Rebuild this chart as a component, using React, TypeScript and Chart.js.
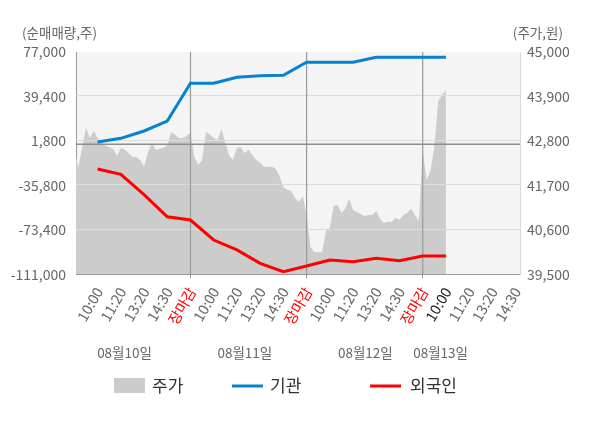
import React, { useEffect, useRef } from "react";
import { Chart, registerables } from "chart.js";

Chart.register(...registerables);

// x axis: one unit per label slot; day separators (장마감) at 5, 10, 15
const TICK_LABELS = [
  "10:00", "11:20", "13:20", "14:30", "장마감",
  "10:00", "11:20", "13:20", "14:30", "장마감",
  "10:00", "11:20", "13:20", "14:30", "장마감",
  "10:00", "11:20", "13:20", "14:30",
];
const DAY_LABELS = ["08월10일", "08월11일", "08월12일", "08월13일"];
const DAY_LABEL_POS = [2.16, 7.34, 12.53, 15.77];
const SEPARATORS = [5, 10, 15];
const CURRENT_TICK = 16;
const SERIES_NAMES = ["주가", "기관", "외국인"];

// 순매매량 (주), one value per slot from 10:00 of 08/10 to 10:00 of 08/13
const INST = [900, 4000, 10200, 18600, 50500, 50600, 55600, 57000, 57300, 68300, 68300, 68300, 72500, 72500, 72500, 72500];
const FOREIGN = [-22000, -26400, -43700, -62300, -65100, -82000, -90400, -101700, -108800, -104000, -98900, -100300, -97500, -99500, -95500, -95500];

// 주가 (원), 6 samples per slot
const SAMPLES_PER_SLOT = 6;
const PRICE_D1 = [42630, 42130, 42630, 43120, 42870, 43050, 42870, 42750, 42680, 42650, 42600, 42430, 42630, 42580, 42500, 42400, 42400, 42330, 42160, 42500, 42770, 42580, 42600, 42630, 42700, 43020, 42950, 42870, 42870, 42920];
const PRICE_D2 = [43000, 42400, 42210, 42330, 43020, 42950, 42870, 42820, 43100, 42750, 42430, 42330, 42630, 42650, 42500, 42580, 42450, 42330, 42260, 42160, 42160, 42160, 42110, 41930, 41660, 41590, 41560, 41390, 41290, 41440];
const PRICE_D3 = [40970, 40180, 40050, 40050, 40050, 40570, 40650, 41190, 41220, 41020, 41120, 41370, 41090, 41040, 40990, 40940, 40970, 40970, 41070, 40870, 40770, 40800, 40800, 40900, 40850, 40970, 41020, 41120, 40970, 40820];
const PRICE_D4 = [42580, 41830, 42060, 42630, 43790, 43940, 44060];
const PREV_CLOSE = 42720;

const QTY_MIN = -111000;
const QTY_MAX = 77000;
const QTY_STEP = 37600;
const PRICE_MIN = 39500;
const PRICE_MAX = 45000;
const PRICE_STEP = 1100;

const FONT = "'Noto Sans CJK KR', 'Noto Sans', sans-serif";

const decorPlugin = {
  id: "decor",
  beforeDraw(chart: any) {
    const { ctx, chartArea: a } = chart;
    ctx.save();
    ctx.fillStyle = "#f4f4f4";
    ctx.fillRect(a.left, a.top, a.right - a.left, a.bottom - a.top);
    ctx.restore();
  },
  afterDatasetDraw(chart: any, args: any) {
    if (args.index !== 0) return;
    const { ctx, chartArea: a, scales } = chart;
    ctx.save();
    ctx.lineWidth = 1;
    ctx.strokeStyle = "#dcdcdc";
    scales.yQty.ticks.forEach((t: any) => {
      if (t.value <= QTY_MIN || t.value >= QTY_MAX) return;
      const py = Math.round(scales.yQty.getPixelForValue(t.value)) - 0.5;
      ctx.beginPath();
      ctx.moveTo(a.left, py);
      ctx.lineTo(a.right, py);
      ctx.stroke();
    });
    const pc = scales.yPrice.getPixelForValue(PREV_CLOSE);
    ctx.strokeStyle = "#8c8c8c";
    ctx.lineWidth = 1.5;
    ctx.beginPath();
    ctx.moveTo(a.left, pc);
    ctx.lineTo(a.right, pc);
    ctx.stroke();
    ctx.strokeStyle = "#999999";
    ctx.lineWidth = 1.2;
    SEPARATORS.forEach((v) => {
      const px = scales.x.getPixelForValue(v);
      ctx.beginPath();
      ctx.moveTo(px, a.top);
      ctx.lineTo(px, a.bottom);
      ctx.stroke();
    });
    ctx.restore();
  },
  afterDraw(chart: any) {
    const { ctx, scales } = chart;
    ctx.save();
    ctx.textBaseline = "middle";
    ctx.fillStyle = "#666666";
    ctx.font = `13.5px ${FONT}`;
    ctx.textAlign = "left";
    ctx.fillText("(순매매량,주)", 22, 33);
    ctx.textAlign = "right";
    ctx.fillText("(주가,원)", 563, 33);

    ctx.textAlign = "center";
    DAY_LABELS.forEach((d, i) => {
      ctx.fillText(d, scales.x.getPixelForValue(DAY_LABEL_POS[i]), 353);
    });

    // legend
    const ly = 386;
    ctx.font = `17px ${FONT}`;
    ctx.textAlign = "left";
    ctx.fillStyle = "#cccccc";
    ctx.fillRect(114, 378, 31, 15);
    ctx.fillStyle = "#333333";
    ctx.fillText(SERIES_NAMES[0], 152, ly);
    ctx.lineWidth = 3;
    ctx.strokeStyle = "#0582d0";
    ctx.beginPath();
    ctx.moveTo(232, ly);
    ctx.lineTo(263, ly);
    ctx.stroke();
    ctx.fillText(SERIES_NAMES[1], 270, ly);
    ctx.strokeStyle = "#ff0000";
    ctx.beginPath();
    ctx.moveTo(370, ly);
    ctx.lineTo(401, ly);
    ctx.stroke();
    ctx.fillText(SERIES_NAMES[2], 410, ly);
    ctx.restore();
  },
};

const App: React.FC = () => {
  const canvasRef = useRef<HTMLCanvasElement | null>(null);
  const chartRef = useRef<Chart | null>(null);

  useEffect(() => {
    if (chartRef.current) chartRef.current.destroy();
    if (!canvasRef.current) return;

    const price = [...PRICE_D1, ...PRICE_D2, ...PRICE_D3, ...PRICE_D4].map((y, k) => ({ x: k / SAMPLES_PER_SLOT, y }));
    const inst = INST.map((y, i) => ({ x: i + 1, y }));
    const foreign = FOREIGN.map((y, i) => ({ x: i + 1, y }));

    chartRef.current = new Chart(canvasRef.current, {
      type: "line",
      data: {
        datasets: [
          {
            label: SERIES_NAMES[0],
            data: price,
            yAxisID: "yPrice",
            fill: "start",
            backgroundColor: "#cccccc",
            borderWidth: 0,
            pointRadius: 0,
            order: 3,
          },
          {
            label: SERIES_NAMES[1],
            data: inst,
            yAxisID: "yQty",
            borderColor: "#0582d0",
            borderWidth: 3,
            pointRadius: 0,
            fill: false,
            order: 2,
          },
          {
            label: SERIES_NAMES[2],
            data: foreign,
            yAxisID: "yQty",
            borderColor: "#ff0000",
            borderWidth: 3,
            pointRadius: 0,
            fill: false,
            order: 1,
          },
        ],
      },
      options: {
        animation: false,
        responsive: true,
        maintainAspectRatio: false,
        layout: { padding: { top: 52, left: 0, right: 0, bottom: 0 } },
        plugins: { legend: { display: false }, tooltip: { enabled: false } },
        scales: {
          x: {
            type: "linear",
            min: 0.07,
            max: 19.19,
            afterBuildTicks: (axis: any) => {
              axis.ticks = TICK_LABELS.map((_, i) => ({ value: i + 1 }));
            },
            afterFit: (s: any) => {
              s.height = 153.7;
            },
            ticks: {
              autoSkip: false,
              minRotation: 60,
              maxRotation: 60,
              labelOffset: 1.5,
              padding: 6,
              font: { size: 14.5, family: FONT },
              color: (c: any) => {
                const v = c.tick?.value;
                if (TICK_LABELS[v - 1] === "장마감") return "#ff0000";
                if (v === CURRENT_TICK) return "#222222";
                return "#666666";
              },
              callback: (v: any) => TICK_LABELS[Math.round(Number(v)) - 1] ?? "",
            },
            grid: {
              drawOnChartArea: false,
              drawTicks: true,
              tickLength: 4,
              color: "rgba(0,0,0,0)",
              tickColor: (c: any) => (SEPARATORS.includes(c.tick?.value) ? "#999999" : "rgba(0,0,0,0)"),
            },
            border: { display: true, color: "#999999", width: 1 },
          },
          yQty: {
            type: "linear",
            position: "left",
            min: QTY_MIN,
            max: QTY_MAX,
            afterFit: (s: any) => {
              s.width = 76;
            },
            ticks: {
              stepSize: QTY_STEP,
              padding: 10,
              color: "#666666",
              font: { size: 14, family: FONT },
              callback: (v: any) => Number(v).toLocaleString("en-US"),
            },
            grid: { display: false, drawTicks: false },
            border: { display: true, color: "#999999", width: 1 },
          },
          yPrice: {
            type: "linear",
            position: "right",
            min: PRICE_MIN,
            max: PRICE_MAX,
            afterFit: (s: any) => {
              s.width = 80;
            },
            ticks: {
              stepSize: PRICE_STEP,
              padding: 7,
              color: "#666666",
              font: { size: 14, family: FONT },
              callback: (v: any) => Number(v).toLocaleString("en-US"),
            },
            grid: { display: false, drawTicks: false },
            border: { display: true, color: "#d8d8d8", width: 1 },
          },
        },
      },
      plugins: [decorPlugin],
    } as any);

    return () => {
      if (chartRef.current) {
        chartRef.current.destroy();
        chartRef.current = null;
      }
    };
  }, []);

  return (
    <div style={{ position: "absolute", left: 0, top: 0, width: 600, height: 428, background: "#ffffff" }}>
      <canvas ref={canvasRef} />
    </div>
  );
};

export default App;
